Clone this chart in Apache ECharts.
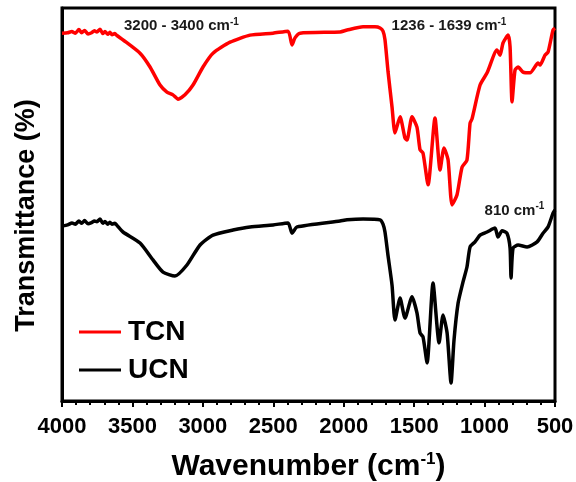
<!DOCTYPE html>
<html>
<head>
<meta charset="utf-8">
<script src="https://cdn.jsdelivr.net/npm/echarts@6/dist/echarts.min.js"></script>
<style>
html,body{margin:0;padding:0;background:#fff;}
#chart{width:576px;height:482px;}
</style>
</head>
<body>
<div id="chart"></div>
<script>
// Series names
const seriesNames = ['TCN', 'UCN'];

// x tick labels
const xTickLabels = ['4000','3500','3000','2500','2000','1500','1000','500'];

// TCN (red) spectrum
const tcnWavenumber = [4000,3960,3930,3905,3880,3860,3840,3815,3790,3770,3752,3730,3710,3695,3675,3660,3645,3625,3610,3567,3446,3375,3304,3255,3212,3176,3127,3070,2999,2928,2807,2665,2502,2395,2367,2346,2310,2026,1976,1863,1778,1742,1721,1707,1685,1657,1636,1600,1565,1551,1515,1480,1458,1437,1401,1352,1316,1288,1259,1231,1196,1160,1125,1103,1089,1032,982,912,890,869,833,819,805,784,762,727,677,620,606,571,549,514,500];
const tcnTransmittance = [93.6,93.7,94.0,93.6,94.5,93.7,94.3,93.4,93.7,94.2,93.9,94.6,93.5,94.0,93.3,93.8,93.2,93.5,93.0,91.9,88.5,85.0,80.4,78.6,77.9,76.8,77.9,80.4,85.0,88.5,91.3,93.1,93.6,94.1,90.6,92.4,93.6,93.9,94.4,95.2,95.2,94.9,94.1,91.9,83.7,74.8,68.2,72.3,66.9,66.4,72.3,69.7,63.9,63.1,55.0,72.0,58.8,64.4,61.3,49.9,52.4,59.5,61.3,70.7,71.8,80.4,83.5,89.3,88.0,91.1,93.1,90.1,76.1,84.2,85.0,83.7,83.5,86.0,85.5,88.0,88.8,94.4,94.9];

// UCN (black) spectrum
const ucnWavenumber = [4000,3960,3929,3905,3880,3860,3840,3815,3790,3770,3752,3730,3710,3695,3675,3660,3645,3625,3610,3567,3446,3354,3283,3198,3113,3020,2928,2786,2665,2502,2395,2367,2331,2026,1976,1863,1742,1721,1707,1685,1657,1636,1600,1565,1515,1480,1458,1437,1408,1366,1323,1295,1266,1238,1217,1188,1153,1125,1103,1068,1032,982,926,905,876,841,819,812,798,762,698,627,585,549,514,500];
const ucnTransmittance = [44.5,44.8,45.3,45.0,45.8,45.2,45.9,45.1,45.4,45.8,45.6,46.3,45.2,45.7,45.0,45.5,45.0,45.2,44.7,43.0,40.2,35.9,32.8,31.8,34.6,39.7,42.2,43.5,44.3,44.8,45.3,42.7,44.3,45.8,46.1,46.3,46.1,45.0,43.0,36.9,29.5,20.6,26.2,21.1,26.5,22.4,17.3,16.3,9.7,30.0,14.8,21.9,17.3,4.6,15.5,24.9,30.3,34.1,39.2,40.5,42.2,43.0,44.0,41.7,43.3,42.7,38.9,31.3,38.9,39.7,39.2,40.5,42.7,44.3,47.8,48.6];

// Annotation labels
const annotations = [
  {text: '3200 - 3400 cm', x: 3560, y: 95.4},
  {text: '1236 - 1639 cm', x: 1660, y: 95.4},
  {text: '810 cm', x: 1000, y: 48.5}
];

const FONT = "'Liberation Sans', Arial, sans-serif";
const tcnData = tcnWavenumber.map((w, i) => [w, tcnTransmittance[i]]);
const ucnData = ucnWavenumber.map((w, i) => [w, ucnTransmittance[i]]);

const chart = echarts.init(document.getElementById('chart'), null, {renderer: 'canvas'});

const annoPoints = annotations.map(a => ({
  coord: [a.x, a.y],
  symbol: 'circle',
  symbolSize: 0,
  itemStyle: {color: 'transparent'},
  label: {
    show: true,
    position: 'right',
    distance: 0,
    formatter: a.text + '{sup|-1}',
    color: '#1a1a1a',
    fontFamily: FONT,
    fontWeight: 'bold',
    fontSize: 15,
    rich: {sup: {fontSize: 10, fontWeight: 'bold', fontFamily: FONT, color: '#1a1a1a', verticalAlign: 'top', padding: [0, 0, 8, 0]}}
  }
}));

chart.setOption({
  animation: false,
  backgroundColor: '#fff',
  grid: {left: 62, right: 21, top: 8, bottom: 81, show: true, borderColor: '#000', borderWidth: 3,
    backgroundColor: 'transparent', containLabel: false, outerBoundsMode: 'none'},
  legend: {
    left: 74, top: 313, orient: 'vertical', itemWidth: 42, itemHeight: 3, itemGap: 10,
    icon: 'rect',
    data: seriesNames,
    textStyle: {fontFamily: FONT, fontWeight: 'bold', fontSize: 28, color: '#000', padding: [0, 0, 0, 2]}
  },
  xAxis: {
    type: 'value', min: 500, max: 4000, interval: 500, inverse: true,
    name: 'Wavenumber (cm{sup|-1})',
    nameLocation: 'middle', nameGap: 50,
    nameTextStyle: {fontFamily: FONT, fontWeight: 'bold', fontSize: 30, color: '#000',
      rich: {sup: {fontFamily: FONT, fontWeight: 'bold', fontSize: 17, color: '#000', verticalAlign: 'top', padding: [0, 0, 14, 0]}}},
    axisLine: {show: true, lineStyle: {color: '#000', width: 3}},
    axisTick: {show: true, inside: false, length: 6, lineStyle: {color: '#000', width: 2}},
    minorTick: {show: true, splitNumber: 5, length: 4, lineStyle: {color: '#000', width: 2}},
    splitLine: {show: false},
    axisLabel: {fontFamily: FONT, fontWeight: 'bold', fontSize: 22, color: '#000', margin: 15,
      formatter: v => xTickLabels[Math.round((4000 - v) / 500)]}
  },
  yAxis: {
    type: 'value', min: 0, max: 100,
    name: 'Transmittance (%)', nameLocation: 'middle', nameGap: 22, nameRotate: 90,
    nameTextStyle: {fontFamily: FONT, fontWeight: 'bold', fontSize: 27, color: '#000', padding: [0, 22, 0, 0]},
    axisLine: {show: true, lineStyle: {color: '#000', width: 3}},
    axisTick: {show: false}, axisLabel: {show: false}, splitLine: {show: false}
  },
  series: [
    {name: seriesNames[0], type: 'line', data: tcnData, symbol: 'none', smooth: 0.2,
     lineStyle: {color: '#ff0000', width: 3.5}, itemStyle: {color: '#ff0000'},
     markPoint: {data: annoPoints.slice(0, 2), silent: true}},
    {name: seriesNames[1], type: 'line', data: ucnData, symbol: 'none', smooth: 0.2,
     lineStyle: {color: '#000', width: 3.5}, itemStyle: {color: '#000'},
     markPoint: {data: annoPoints.slice(2), silent: true}}
  ]
});
</script>
</body>
</html>
